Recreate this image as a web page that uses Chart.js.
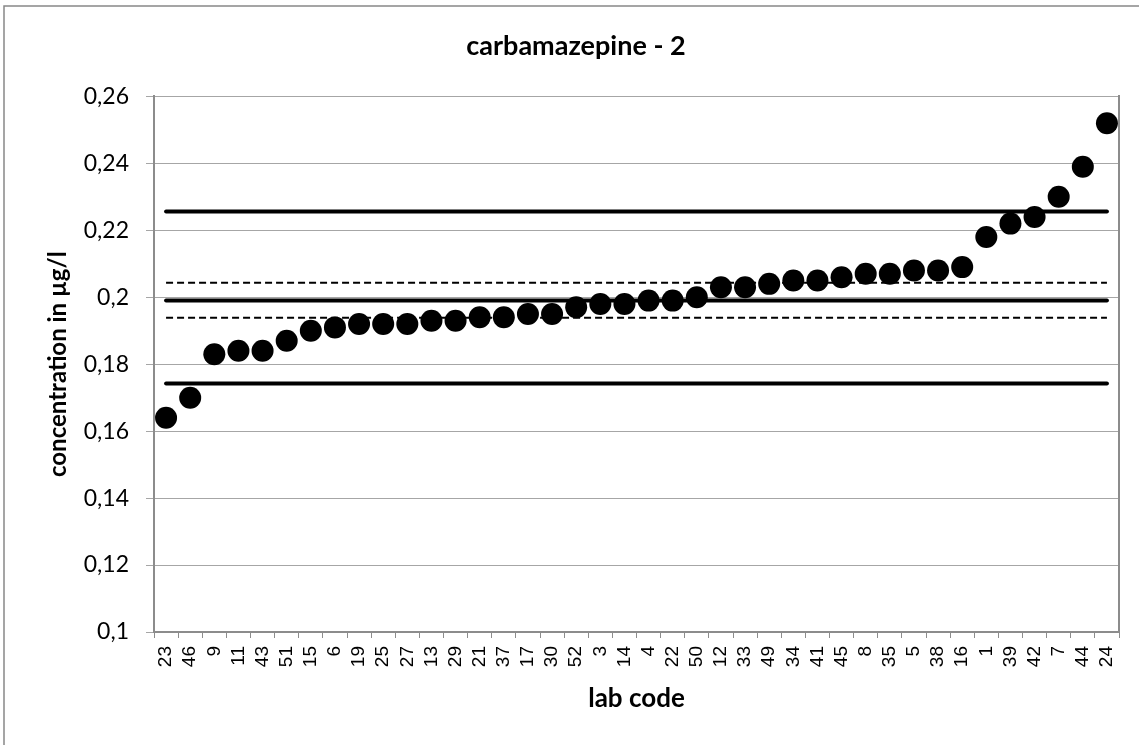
<!DOCTYPE html>
<html>
<head>
<meta charset="utf-8">
<script src="https://cdn.jsdelivr.net/npm/chart.js@4/dist/chart.umd.min.js"></script>
<style>
  html, body { margin: 0; padding: 0; background: #fff; }
  canvas { display: block; }
</style>
</head>
<body>
<canvas id="c" width="1139" height="745"></canvas>
<script>
// lab codes in plotted order
const labCodes = ["23", "46", "9", "11", "43", "51", "15", "6", "19", "25",
  "27", "13", "29", "21", "37", "17", "30", "52", "3", "14",
  "4", "22", "50", "12", "33", "49", "34", "41", "45", "8",
  "35", "5", "38", "16", "1", "39", "42", "7", "44", "24"];

// reported concentrations (µg/l)
const concentrations = [0.164, 0.170, 0.183, 0.184, 0.184, 0.187, 0.190, 0.191, 0.192, 0.192,
  0.192, 0.193, 0.193, 0.194, 0.194, 0.195, 0.195, 0.197, 0.198, 0.198,
  0.199, 0.199, 0.200, 0.203, 0.203, 0.204, 0.205, 0.205, 0.206, 0.207,
  0.207, 0.208, 0.208, 0.209, 0.218, 0.222, 0.224, 0.230, 0.239, 0.252];

// assigned value and limits
const solidLimits = [0.2256, 0.1990, 0.1742];
const dashedLimits = [0.2043, 0.1939];

const yTicks = [0.1, 0.12, 0.14, 0.16, 0.18, 0.2, 0.22, 0.24, 0.26];

const axisGray = "#8c8c8c";
const gridGray = "#a6a6a6";

function limitLine(v, dashed) {
  return {
    type: "line",
    data: [{ x: labCodes[0], y: v }, { x: labCodes[labCodes.length - 1], y: v }],
    borderColor: "#000",
    borderWidth: dashed ? 2 : 4,
    borderDash: dashed ? [7, 4] : [],
    borderCapStyle: dashed ? "butt" : "round",
    pointRadius: 0,
    fill: false,
  };
}

const chartBorder = {
  id: "chartBorder",
  beforeDraw(chart) {
    const { ctx, width, height } = chart;
    ctx.save();
    ctx.fillStyle = "#fff";
    ctx.fillRect(0, 0, width, height);
    ctx.strokeStyle = "#888";
    ctx.lineWidth = 1.5;
    ctx.beginPath();
    ctx.moveTo(4, height);
    ctx.lineTo(4, 6);
    ctx.lineTo(width, 6);
    ctx.stroke();
    ctx.restore();
  },
};

new Chart(document.getElementById("c"), {
  type: "line",
  data: {
    labels: labCodes,
    datasets: [
      {
        data: concentrations,
        showLine: false,
        pointRadius: 11,
        pointHoverRadius: 11,
        pointBackgroundColor: "#000",
        pointBorderColor: "#000",
        pointBorderWidth: 0,
      },
      ...solidLimits.map((v) => limitLine(v, false)),
      ...dashedLimits.map((v) => limitLine(v, true)),
    ],
  },
  options: {
    responsive: false,
    devicePixelRatio: 1,
    animation: false,
    layout: { padding: { left: 13, right: 0, top: 0, bottom: 0 } },
    plugins: {
      legend: { display: false },
      tooltip: { enabled: false },
      title: {
        display: true,
        text: "carbamazepine - 2",
        color: "#000",
        font: { family: "Lato", size: 27, weight: "bold" },
        padding: { top: 30, bottom: 34 },
      },
    },
    scales: {
      x: {
        type: "category",
        offset: true,
        afterFit(scale) { scale.height = 113; },
        grid: {
          display: true,
          drawOnChartArea: false,
          offset: true,
          tickLength: 6,
          color: axisGray,
        },
        border: { color: axisGray, width: 2 },
        ticks: {
          autoSkip: false,
          minRotation: 90,
          maxRotation: 90,
          padding: 8,
          color: "#000",
          font: { family: "Liberation Sans", size: 19 },
        },
        title: {
          display: true,
          text: "lab code",
          color: "#000",
          font: { family: "Lato", size: 26, weight: "bold" },
          padding: { top: 0, bottom: 31 },
        },
      },
      y: {
        position: "left",
        min: 0.1,
        max: 0.26,
        afterFit(scale) { scale.width = 141; },
        afterBuildTicks(scale) { scale.ticks = yTicks.map((v) => ({ value: v })); },
        grid: { color: gridGray, lineWidth: 1, tickLength: 8 },
        border: { color: axisGray, width: 2 },
        ticks: {
          padding: 17,
          color: "#000",
          font: { family: "Lato", size: 23 },
          callback: (v) => String(v).replace(".", ","),
        },
        title: {
          display: true,
          text: "concentration in µg/l",
          color: "#000",
          font: { family: "Lato", size: 24, weight: "bold" },
          padding: { top: 31, bottom: 0 },
        },
      },
      y2: {
        position: "right",
        min: 0.1,
        max: 0.26,
        afterFit(scale) { scale.width = 20; },
        grid: { drawOnChartArea: false, drawTicks: false },
        border: { color: axisGray, width: 2 },
        ticks: { display: false },
      },
    },
  },
  plugins: [chartBorder],
});
</script>
</body>
</html>
